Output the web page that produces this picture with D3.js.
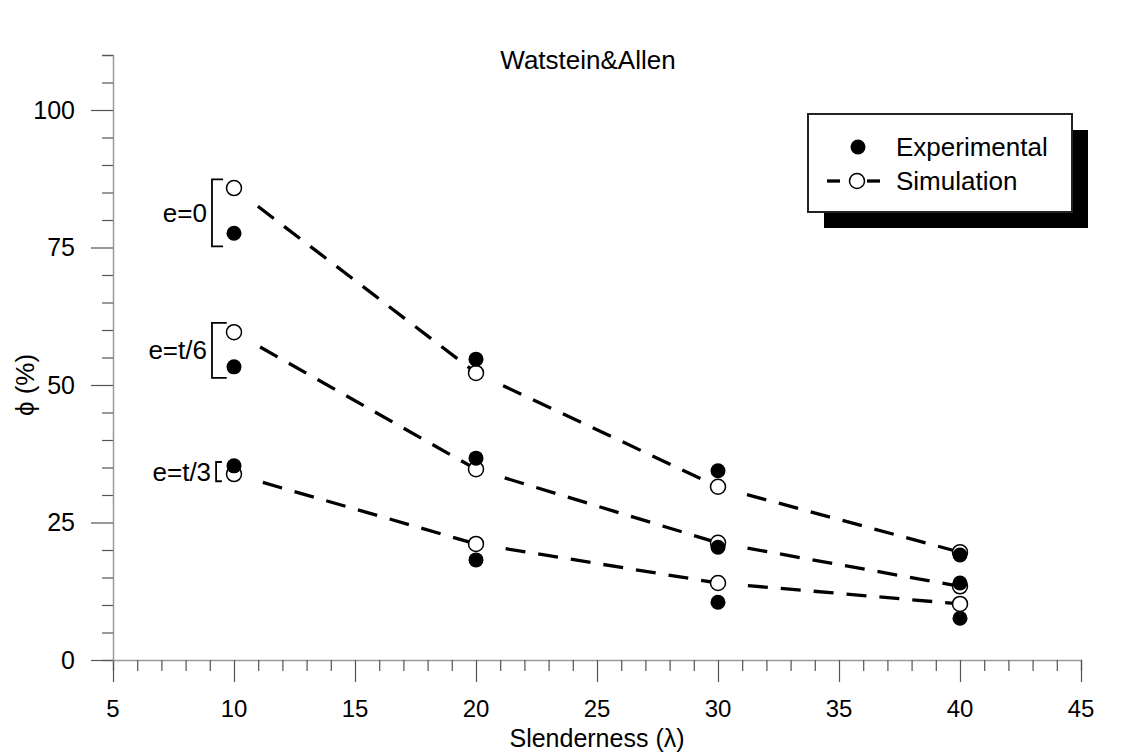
<!DOCTYPE html>
<html>
<head>
<meta charset="utf-8">
<script src="https://cdn.jsdelivr.net/npm/d3@7"></script>
<style>
  html, body { margin: 0; padding: 0; background: #ffffff; }
  svg { display: block; font-family: "Liberation Sans", Arial, sans-serif; }
</style>
</head>
<body>
<svg id="chart" width="1124" height="753"></svg>
<script>
// Slenderness values on the x axis
const lambda = [10, 20, 30, 40];

// Load ratio phi (%) for each eccentricity case
const expE0 = [77.6, 54.7, 34.4, 19.1];
const simE0 = [85.8, 52.2, 31.5, 19.6];
const expT6 = [53.3, 36.7, 20.5, 14.0];
const simT6 = [59.6, 34.7, 21.3, 13.4];
const expT3 = [35.3, 18.2, 10.5, 7.6];
const simT3 = [33.8, 21.1, 14.0, 10.2];

// Eccentricity group labels and the phi span each bracket covers at lambda = 10
const groupLabels = ["e=0", "e=t/6", "e=t/3"];
const bracketSpans = [[75.2, 87.4], [51.3, 61.3], [32.5, 36.0]];
const bracketX = [9.09, 9.09, 9.26];
const bracketArm = [9.55, 9.7, 9.5];

// Axis ticks
const xMajor = [5, 10, 15, 20, 25, 30, 35, 40, 45];
const yMajor = [0, 25, 50, 75, 100];

const svg = d3.select("#chart");
const x = d3.scaleLinear().domain([5, 45]).range([113, 1081]);
const y = d3.scaleLinear().domain([0, 110]).range([660, 55]);

const axisColor = "#9a9a9a";
const tickColor = "#555";

// ----- axes -----
const xAxis = svg.append("g").attr("transform", `translate(0,${y(0)})`)
  .call(d3.axisBottom(x).tickValues(d3.range(5, 46, 1))
    .tickSize(11).tickFormat(""));
xAxis.selectAll(".tick line")
  .attr("y2", d => xMajor.includes(d) ? 22 : 11);
const yAxis = svg.append("g").attr("transform", `translate(${x(5)},0)`)
  .call(d3.axisLeft(y).tickValues(d3.range(0, 111, 5))
    .tickSize(11).tickFormat(""));
yAxis.selectAll(".tick line")
  .attr("x2", d => yMajor.includes(d) ? -22 : -11);

[xAxis, yAxis].forEach(g => {
  g.select(".domain").attr("stroke", axisColor).attr("stroke-width", 1.5);
  g.selectAll(".tick line").attr("stroke", tickColor).attr("stroke-width", 1.2);
});

// tick labels
svg.append("g").selectAll("text").data(xMajor).join("text")
  .attr("x", d => x(d)).attr("y", 717)
  .attr("text-anchor", "middle").attr("font-size", 24).text(d => d);
svg.append("g").selectAll("text").data(yMajor).join("text")
  .attr("x", 75).attr("y", d => y(d))
  .attr("dy", "0.35em").attr("text-anchor", "end").attr("font-size", 25).text(d => d);

// axis titles and chart title
svg.append("text").attr("x", x(25)).attr("y", 747)
  .attr("text-anchor", "middle").attr("font-size", 25).text("Slenderness (λ)");
svg.append("text").attr("transform", `translate(25,${y(50)}) rotate(-90)`)
  .attr("text-anchor", "middle").attr("dy", "0.35em").attr("font-size", 26).text("ϕ (%)");
svg.append("text").attr("x", 588).attr("y", 69)
  .attr("text-anchor", "middle").attr("font-size", 26).text("Watstein&Allen");

// ----- dashed simulation lines -----
// each segment leaves a short gap after the marker it starts from
const startGap = 30;
function segments(vals) {
  const pts = lambda.map((l, i) => [x(l), y(vals[i])]);
  const segs = [];
  for (let i = 0; i < pts.length - 1; i++) {
    const [x0, y0] = pts[i], [x1, y1] = pts[i + 1];
    const len = Math.hypot(x1 - x0, y1 - y0);
    const ux = (x1 - x0) / len, uy = (y1 - y0) / len;
    segs.push([[x0 + ux * startGap, y0 + uy * startGap], [x1, y1]]);
  }
  return segs;
}
const lineGroup = svg.append("g");
[simE0, simT6, simT3].forEach(vals => {
  lineGroup.selectAll(null).data(segments(vals)).join("path")
    .attr("d", d => d3.line()(d))
    .attr("fill", "none").attr("stroke", "#000")
    .attr("stroke-width", 3.3).attr("stroke-dasharray", "20 13");
});

// ----- markers -----
const r = 7.5;
const markerGroup = svg.append("g");
[simE0, simT6, simT3].forEach(vals => {
  markerGroup.selectAll(null).data(vals).join("circle")
    .attr("cx", (d, i) => x(lambda[i])).attr("cy", d => y(d)).attr("r", r)
    .attr("fill", "#fff").attr("stroke", "#000").attr("stroke-width", 1.5);
});
[expE0, expT6, expT3].forEach(vals => {
  markerGroup.selectAll(null).data(vals).join("circle")
    .attr("cx", (d, i) => x(lambda[i])).attr("cy", d => y(d)).attr("r", r)
    .attr("fill", "#000");
});

// ----- eccentricity brackets -----
const bracketGroup = svg.append("g");
groupLabels.forEach((lab, i) => {
  const [lo, hi] = bracketSpans[i];
  const bx = x(bracketX[i]), ax = x(bracketArm[i]);
  bracketGroup.append("path")
    .attr("d", `M${ax},${y(hi)}H${bx}V${y(lo)}H${ax}`)
    .attr("fill", "none").attr("stroke", "#000").attr("stroke-width", 1.8);
  bracketGroup.append("text")
    .attr("x", bx - 5).attr("y", (y(lo) + y(hi)) / 2)
    .attr("dy", "0.35em").attr("text-anchor", "end").attr("font-size", 26).text(lab);
});

// ----- legend -----
const lg = svg.append("g").attr("transform", "translate(808,114)");
const lw = 264, lh = 98;
lg.append("rect").attr("x", 16).attr("y", 16).attr("width", lw).attr("height", lh).attr("fill", "#000");
lg.append("rect").attr("x", 0).attr("y", 0).attr("width", lw).attr("height", lh)
  .attr("fill", "#fff").attr("stroke", "#222").attr("stroke-width", 2);
lg.append("circle").attr("cx", 50).attr("cy", 33).attr("r", r).attr("fill", "#000");
lg.append("text").attr("x", 88).attr("y", 33).attr("dy", "0.35em")
  .attr("font-size", 26).text("Experimental");
lg.append("line").attr("x1", 19).attr("x2", 32).attr("y1", 67).attr("y2", 67)
  .attr("stroke", "#000").attr("stroke-width", 3.3);
lg.append("line").attr("x1", 59).attr("x2", 72).attr("y1", 67).attr("y2", 67)
  .attr("stroke", "#000").attr("stroke-width", 3.3);
lg.append("circle").attr("cx", 49).attr("cy", 67).attr("r", r)
  .attr("fill", "#fff").attr("stroke", "#000").attr("stroke-width", 1.5);
lg.append("text").attr("x", 88).attr("y", 67).attr("dy", "0.35em")
  .attr("font-size", 26).text("Simulation");
</script>
</body>
</html>
